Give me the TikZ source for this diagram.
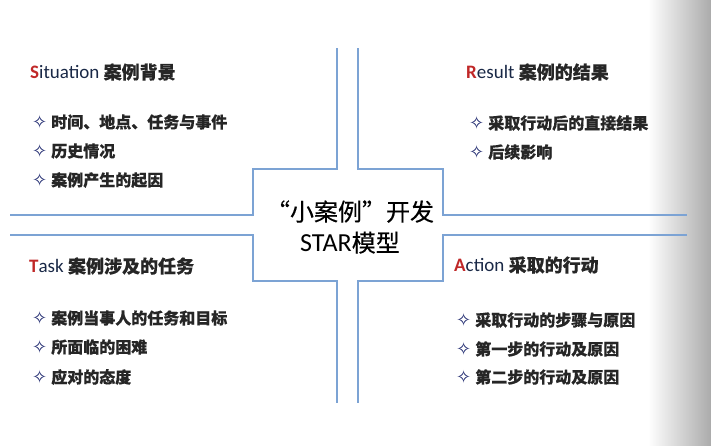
\documentclass[tikz,border=0pt]{standalone}
\usepackage{fontspec}
\setmainfont{Carlito}
\newfontfamily\cjk{Noto Sans CJK SC}[FakeBold=0.35]
\newfontfamily\sym{DejaVu Sans}
\definecolor{crossblue}{RGB}{124,163,212}
\definecolor{headred}{RGB}{192,40,40}
\definecolor{headnavy}{RGB}{25,40,70}
\definecolor{starnavy}{RGB}{30,40,110}
\newcommand{\starbullet}{{\sym\bfseries\color{starnavy}\fontsize{18}{18}\selectfont ✧}\hspace{4pt}}
\tikzset{
  head/.style={anchor=west, inner sep=0pt, font=\fontsize{19}{19}\selectfont, text=headnavy},
  item/.style={anchor=west, inner sep=0pt, font=\cjk\bfseries\fontsize{16}{16}\selectfont, text=black!85},
  cross/.style={crossblue, line width=1.8pt},
}
\begin{document}
\begin{tikzpicture}[x=1pt, y=-1pt]
  \useasboundingbox (0,0) rectangle (711,445);
  \shade[left color=white, right color=black!33] (648,0) rectangle (711,445);
  % the cross
  \draw[cross] (337,48) -- (337,169) -- (253,169) -- (253,215) -- (10,215);
  \draw[cross] (358,48) -- (358,169) -- (443,169) -- (443,215) -- (687,215);
  \draw[cross] (10,235) -- (253,235) -- (253,281) -- (337,281) -- (337,403);
  \draw[cross] (687,235) -- (443,235) -- (443,281) -- (358,281) -- (358,403);
  \node[align=center, inner sep=0pt, font=\cjk\fontsize{24}{31}\selectfont] (star) at (350,227)
    {“小案例”开发\\{\rmfamily\fontsize{26}{31}\selectfont STAR}模型};
  % Situation
  \node[head] (sit) at (30,72) {{\bfseries\color{headred}S}ituation {\cjk\bfseries\fontsize{18}{18}\selectfont\color{black!85}案例背景}};
  \node[item] (sit1) at (32,122) {\starbullet 时间、地点、任务与事件};
  \node[item] (sit2) at (32,151) {\starbullet 历史情况};
  \node[item] (sit3) at (32,180) {\starbullet 案例产生的起因};
  % Result
  \node[head] (res) at (466,72) {{\bfseries\color{headred}R}esult {\cjk\bfseries\fontsize{18}{18}\selectfont\color{black!85}案例的结果}};
  \node[item] (res1) at (469,123) {\starbullet 采取行动后的直接结果};
  \node[item] (res2) at (469,152) {\starbullet 后续影响};
  % Task
  \node[head] (task) at (29,266) {{\bfseries\color{headred}T}ask {\cjk\bfseries\fontsize{18}{18}\selectfont\color{black!85}案例涉及的任务}};
  \node[item] (task1) at (32,318) {\starbullet 案例当事人的任务和目标};
  \node[item] (task2) at (32,347) {\starbullet 所面临的困难};
  \node[item] (task3) at (32,377) {\starbullet 应对的态度};
  % Action
  \node[head] (act) at (454,265) {{\bfseries\color{headred}A}ction {\cjk\bfseries\fontsize{18}{18}\selectfont\color{black!85}采取的行动}};
  \node[item] (act1) at (456,320) {\starbullet 采取行动的步骤与原因};
  \node[item] (act2) at (456,349) {\starbullet 第一步的行动及原因};
  \node[item] (act3) at (456,377) {\starbullet 第二步的行动及原因};
\end{tikzpicture}
\end{document}
